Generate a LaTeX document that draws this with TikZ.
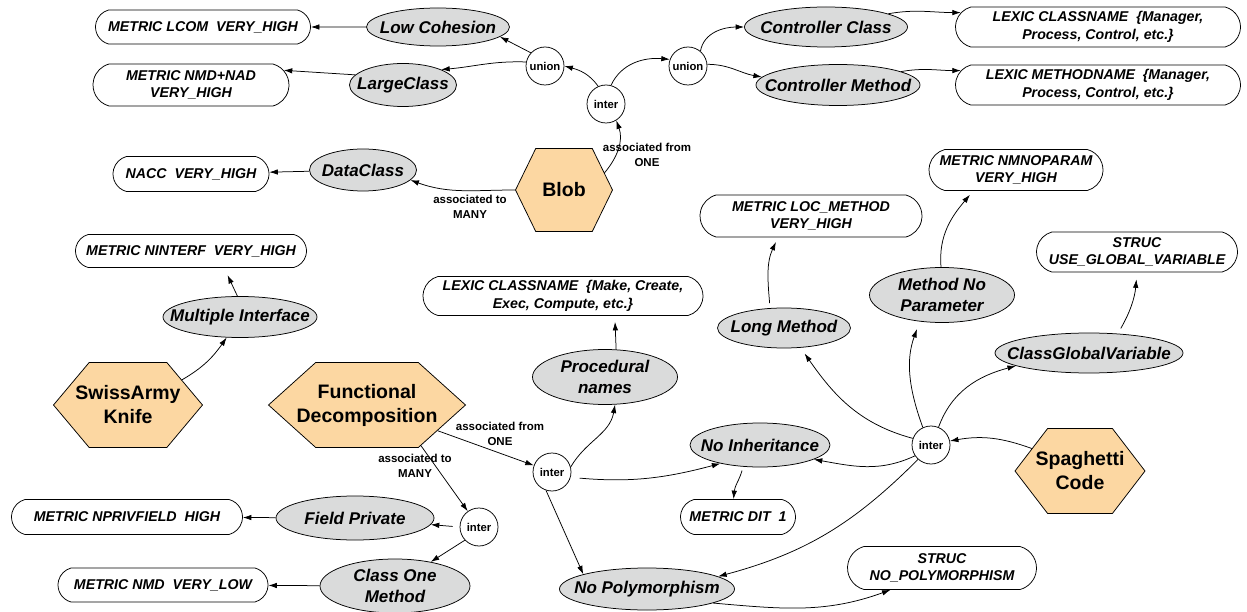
\documentclass[tikz,border=0pt]{standalone}
\usepackage{fontspec}
\setmainfont{Liberation Sans}
\usetikzlibrary{shapes.geometric, shapes.misc, shapes.symbols, arrows.meta, positioning}
\definecolor{hexorange}{RGB}{252,215,162}
\definecolor{smellgray}{RGB}{218,219,219}

\begin{document}
\begin{tikzpicture}[x=1pt, y=1pt, line width=0.75pt]
    \tikzstyle{metric} = [rounded rectangle, rounded rectangle arc length=150, draw=black, fill=white, inner xsep=0pt, inner ysep=2pt, align=center, font=\fontsize{14.2}{17.5}\selectfont\bfseries\itshape]
    \tikzstyle{smell} = [ellipse, draw=black, fill=smellgray, inner xsep=-30pt, inner ysep=-8pt, align=center, font=\fontsize{17}{21}\selectfont\bfseries\itshape]
    \tikzstyle{antipattern} = [signal, signal to=west and east, draw=black, fill=hexorange, inner ysep=0pt, minimum height=85pt, align=center, font=\fontsize{19.5}{24}\selectfont\bfseries]
    \tikzstyle{setop} = [circle, draw=black, fill=white, minimum size=38pt, inner sep=0pt, font=\fontsize{11.3}{13}\selectfont\bfseries]
    \tikzstyle{assoc} = [align=center, inner sep=0pt, font=\fontsize{11.5}{14.5}\selectfont\bfseries]
    \tikzstyle{arr} = [-{Latex[length=8.5pt,width=5.5pt]}]

    \useasboundingbox (0,0) rectangle (1247,-612);

    \node[metric, minimum width=215pt, minimum height=34pt] (lcom) at (203,-27) {METRIC LCOM\ \ VERY\_HIGH};
    \node[metric, minimum width=196pt, minimum height=42pt] (nmdnad) at (191,-85) {METRIC NMD+NAD\\VERY\_HIGH};
    \node[metric, minimum width=156pt, minimum height=35pt] (nacc) at (191,-174) {NACC\ \ VERY\_HIGH};
    \node[metric, minimum width=285pt, minimum height=40pt] (lexcls) at (1098,-27) {LEXIC CLASSNAME\ \ \{Manager,\\Process, Control, etc.\}};
    \node[metric, minimum width=285pt, minimum height=40pt] (lexmeth) at (1098,-85) {LEXIC METHODNAME\ \ \{Manager,\\Process, Control, etc.\}};
    \node[metric, minimum width=174pt, minimum height=41pt] (nmnoparam) at (1016,-170) {METRIC NMNOPARAM\\VERY\_HIGH};
    \node[metric, minimum width=222pt, minimum height=42pt] (locmeth) at (811,-216) {METRIC LOC\_METHOD\\VERY\_HIGH};
    \node[metric, minimum width=231pt, minimum height=33pt] (ninterf) at (191,-251) {METRIC NINTERF\ \ VERY\_HIGH};
    \node[metric, minimum width=280pt, minimum height=39pt] (lexproc) at (563,-296) {LEXIC CLASSNAME\ \ \{Make, Create,\\Exec, Compute, etc.\}};
    \node[metric, minimum width=201pt, minimum height=40pt] (strucglob) at (1137,-252) {STRUC\\USE\_GLOBAL\_VARIABLE};
    \node[metric, minimum width=231pt, minimum height=35pt] (nprivfield) at (127,-517) {METRIC NPRIVFIELD\ \ HIGH};
    \node[metric, minimum width=210pt, minimum height=34pt] (nmd) at (163,-585) {METRIC NMD\ \ VERY\_LOW};
    \node[metric, minimum width=115pt, minimum height=35pt] (dit) at (738,-517) {METRIC DIT\ \ 1};
    \node[metric, minimum width=189pt, minimum height=43pt] (strucnopoly) at (942,-568) {STRUC\\NO\_POLYMORPHISM};

    \node[smell, minimum width=143pt, minimum height=38pt] (lowcoh) at (438,-27) {Low Cohesion};
    \node[smell, minimum width=107pt, minimum height=43pt] (largecls) at (403,-85) {LargeClass};
    \node[smell, minimum width=107pt, minimum height=42pt] (dataclass) at (363,-170) {DataClass};
    \node[smell, minimum width=163pt, minimum height=40pt] (ctrlcls) at (826,-27) {Controller Class};
    \node[smell, minimum width=164pt, minimum height=41pt] (ctrlmeth) at (838,-85) {Controller Method};
    \node[smell, minimum width=154pt, minimum height=41pt] (multint) at (240,-317) {Multiple Interface};
    \node[smell, minimum width=145pt, minimum height=55pt] (procnames) at (605,-377) {Procedural\\names};
    \node[smell, minimum width=133pt, minimum height=40pt] (longmeth) at (784,-328) {Long Method};
    \node[smell, minimum width=145pt, minimum height=55pt] (methnoparam) at (942,-295) {Method No\\Parameter};
    \node[smell, minimum width=188pt, minimum height=40pt] (classglob) at (1089,-353) {ClassGlobalVariable};
    \node[smell, minimum width=140pt, minimum height=44pt] (noinh) at (760,-445) {No Inheritance};
    \node[smell, minimum width=158pt, minimum height=44pt] (fieldpriv) at (355,-518) {Field Private};
    \node[smell, minimum width=150pt, minimum height=54pt] (classone) at (395,-586) {Class One\\Method};
    \node[smell, minimum width=175pt, minimum height=42pt] (nopoly) at (647,-589) {No Polymorphism};

    \node[antipattern, signal pointer angle=128, inner xsep=0pt, minimum width=97pt, minimum height=83pt] (blob) at (564,-190) {Blob};
    \node[antipattern, signal pointer angle=100, inner xsep=-16pt, minimum width=149pt] (swiss) at (128,-405) {SwissArmy\\Knife};
    \node[antipattern, signal pointer angle=84, inner xsep=-21pt, minimum width=197pt] (funcdec) at (367,-405) {Functional\\Decomposition};
    \node[antipattern, signal pointer angle=105, inner xsep=-14pt, minimum width=130pt] (spaghetti) at (1080,-471) {Spaghetti\\Code};

    \node[setop] (union1) at (545,-66) {union};
    \node[setop] (union2) at (688,-66) {union};
    \node[setop] (inter1) at (606,-104) {inter};
    \node[setop] (inter2) at (552,-472) {inter};
    \node[setop] (inter3) at (479,-527) {inter};
    \node[setop] (inter4) at (931,-445) {inter};

    \node[assoc] (oneblob) at (647,-155) {associated from\\ONE};
    \node[assoc] (manyblob) at (470,-207) {associated to\\MANY};
    \node[assoc] (onefunc) at (500,-434) {associated from\\ONE};
    \node[assoc] (manyfunc) at (415,-466) {associated to\\MANY};

    \draw[arr] (blob.23) to[out=50,in=-70] (inter1.-58);
    \draw[arr] (blob.west) to[out=180,in=-20] (dataclass.-12);
    \draw[arr] (dataclass) -- (nacc);
    \draw[arr] (lowcoh) -- (lcom);
    \draw[arr] (largecls.168) -- (nmdnad.9);
    \draw[arr] (inter1.114) to[out=125,in=-15] (union1.east);
    \draw[arr] (inter1.75) to[out=65,in=175] (union2.160);
    \draw[arr] (union1.137) -- (lowcoh.-9);
    \draw[arr] (union1.168) to[out=178,in=5] (largecls.22);
    \draw[arr] (union2.50) to[out=80,in=180] (ctrlcls.west);
    \draw[arr] (union2.5) to[out=0,in=170] (ctrlmeth.174);
    \draw[arr] (ctrlcls.12) to[out=10,in=180] (lexcls.174);
    \draw[arr] (ctrlmeth.12) to[out=10,in=180] (lexmeth.174);
    \draw[arr] (swiss.25) to[out=30,in=-125] (multint.-123);
    \draw[arr, shorten >=8pt] (multint.97) -- (ninterf.-27);
    \draw[arr] (funcdec.-20) -- (inter2);
    \draw[arr] (funcdec.-37) -- (inter3);
    \draw[arr] (inter2.15) to[out=60,in=-100] (procnames.-70);
    \draw[arr, shorten <=9pt] (inter2.-16) to[out=-5,in=-165] (noinh.-155);
    \draw[arr] (inter2.-108) -- (nopoly.167);
    \draw[arr, shorten >=6pt] (procnames.68) -- (lexproc.-21);
    \draw[arr, shorten <=4pt] (noinh.-128) to[out=-105,in=85] (dit.104);
    \draw[arr, shorten <=7pt] (inter3.west) -- (fieldpriv.-5);
    \draw[arr] (inter3.-137) -- (classone.34);
    \draw[arr] (fieldpriv) -- (nprivfield);
    \draw[arr] (classone) -- (nmd);
    \draw[arr] (spaghetti.155) to[out=160,in=10] (inter4.12);
    \draw[arr, shorten >=7pt] (inter4.160) to[out=165,in=-55] (longmeth.-50);
    \draw[arr, shorten >=8pt] (inter4.115) to[out=110,in=-110] (methnoparam.-130);
    \draw[arr] (inter4.67) to[out=70,in=-165] (classglob.-170);
    \draw[arr] (inter4.-146) to[out=-155,in=-10] (noinh.-15);
    \draw[arr] (inter4.-132) to[out=-135,in=15] (nopoly.10);
    \draw[arr] (nopoly.-12) to[out=-5,in=-160] (strucnopoly.-157);
    \draw[arr, shorten >=5pt] (methnoparam.92) to[out=95,in=-130] (nmnoparam.-154);
    \draw[arr, shorten <=5pt, shorten >=5pt] (longmeth.125) to[out=95,in=-115] (locmeth.-147);
    \draw[arr, shorten <=6pt, shorten >=7pt] (classglob.34) to[out=60,in=-95] (strucglob.south);
\end{tikzpicture}
\end{document}
